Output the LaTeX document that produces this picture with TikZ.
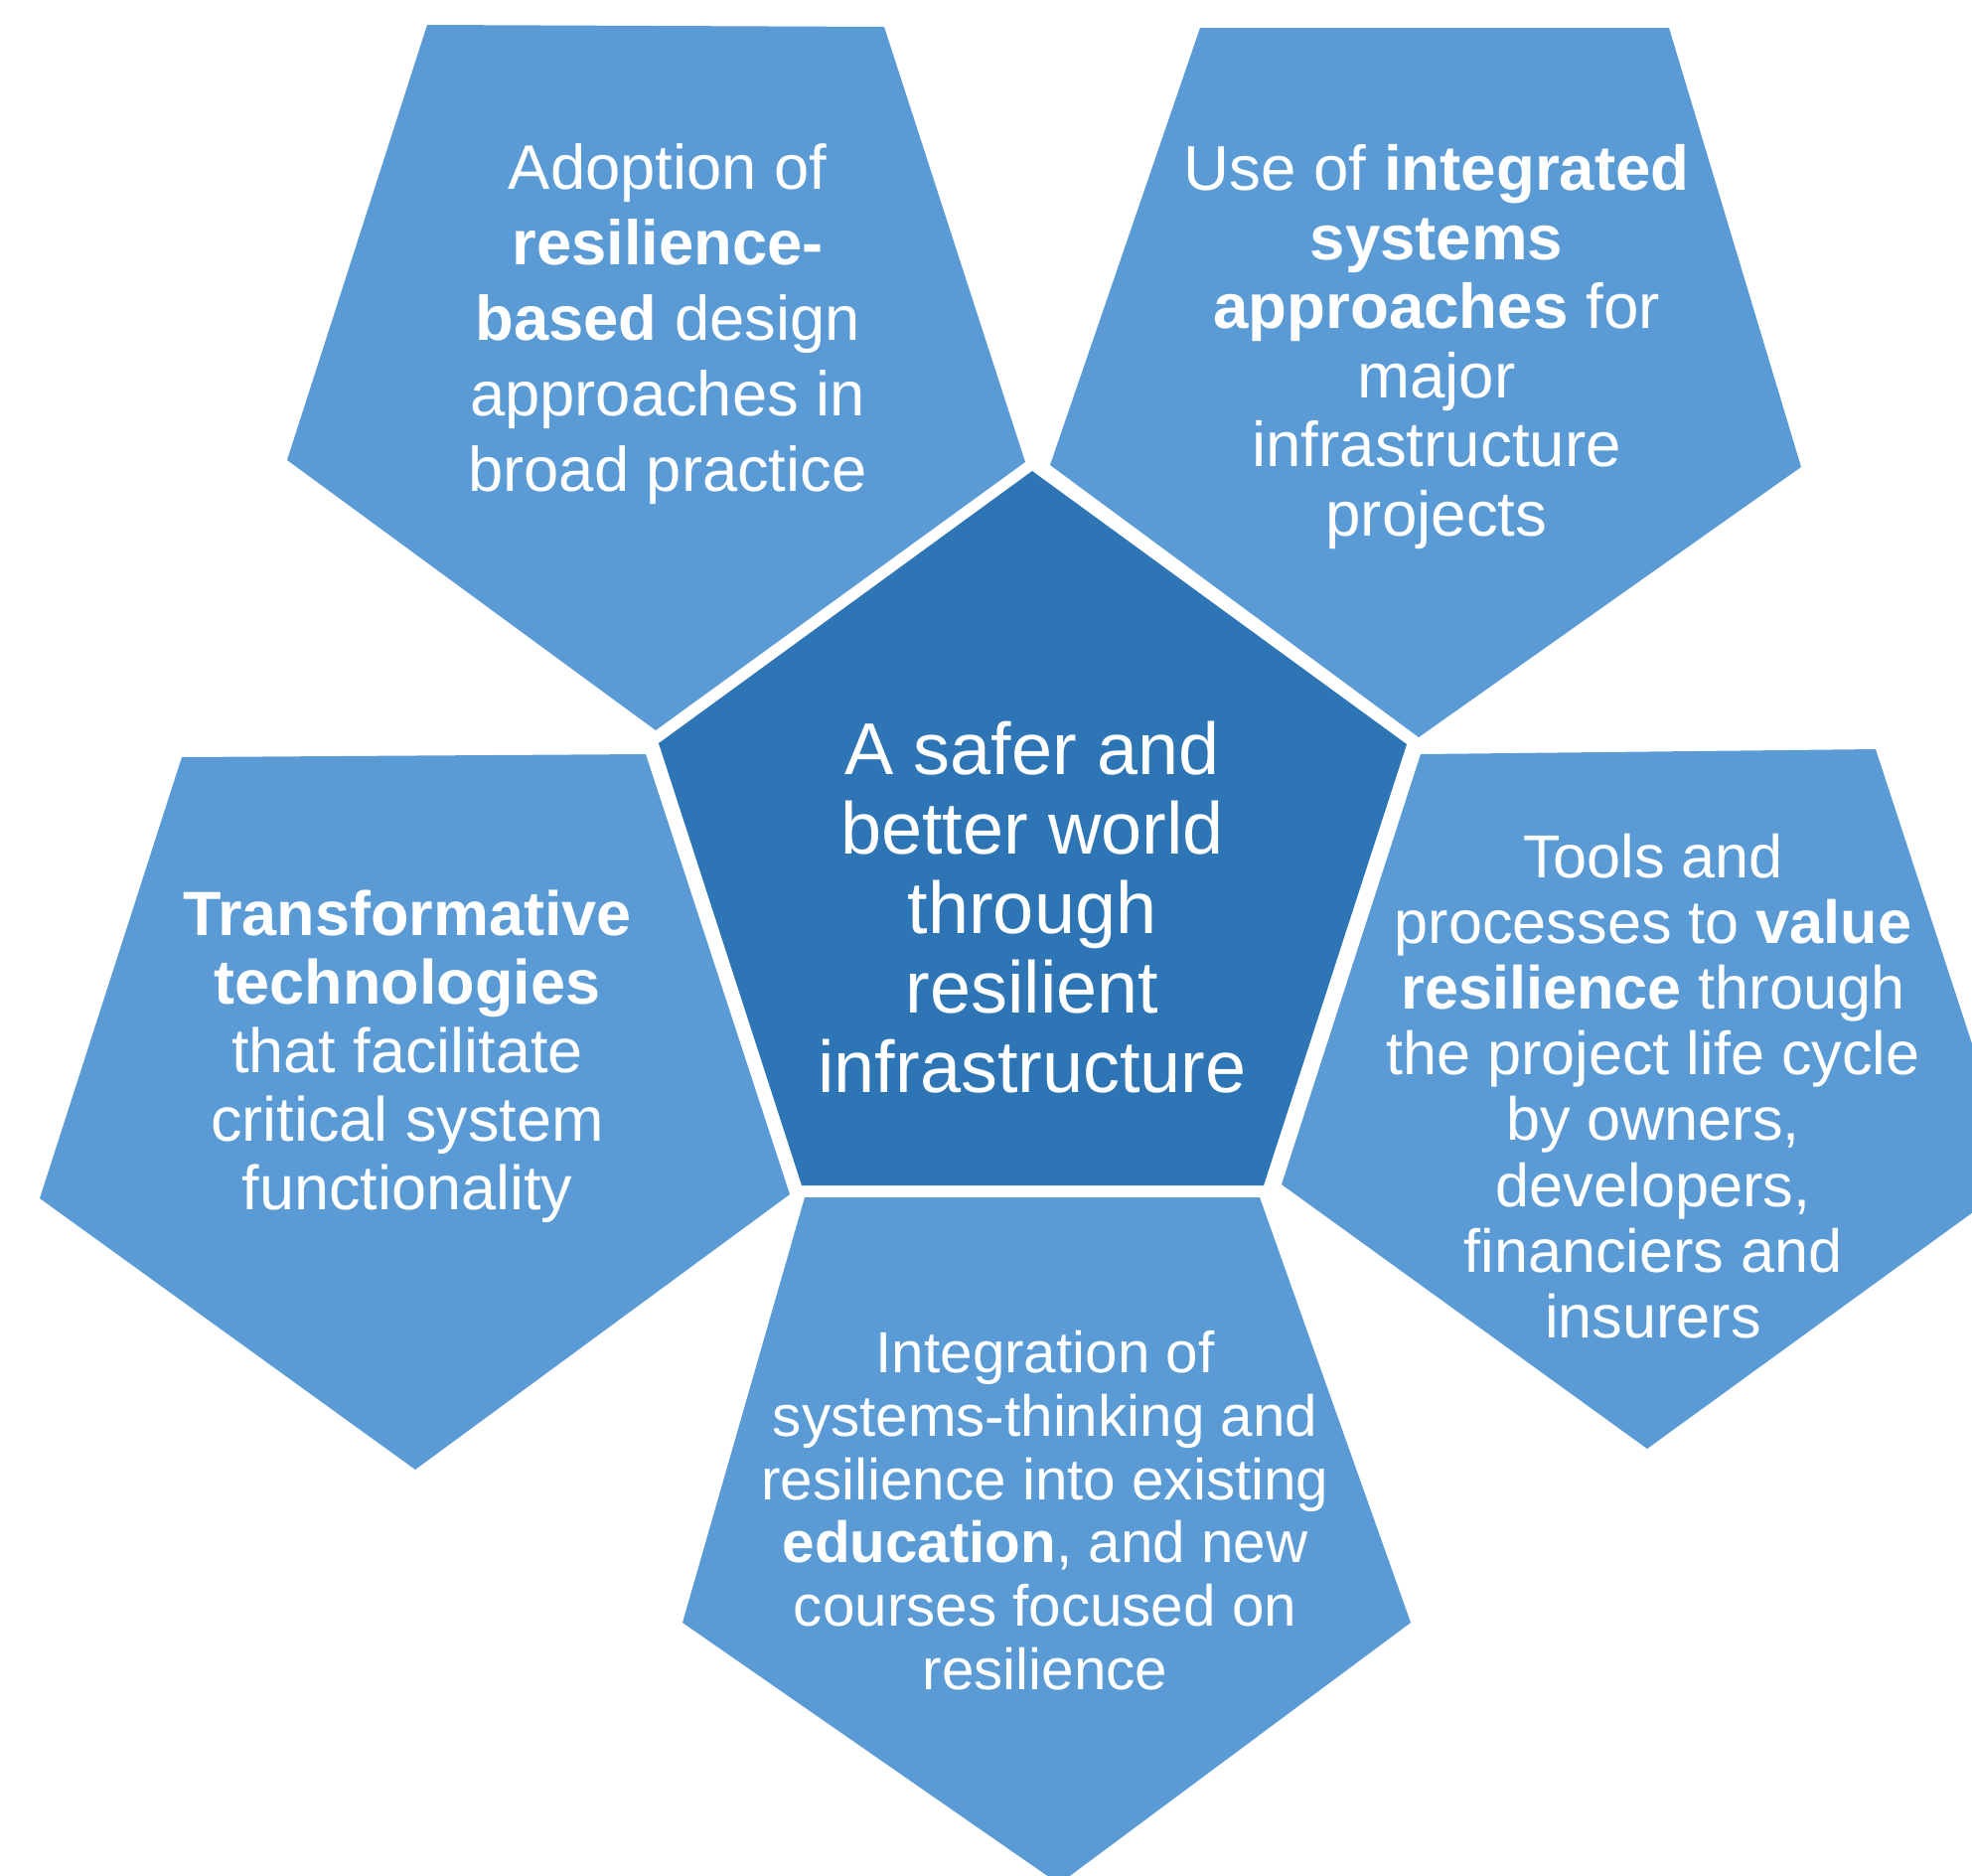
\documentclass[tikz,border=0pt]{standalone}
\usepackage{fontspec}
\setmainfont{Liberation Sans}
\usepackage{tikz}
\usetikzlibrary{calc}
\definecolor{PetalBlue}{HTML}{5B9BD5}
\definecolor{HubBlue}{HTML}{2E75B6}
\tikzstyle{petal} = [fill=PetalBlue]
\tikzstyle{hub} = [fill=HubBlue]
\tikzstyle{blurb} = [text=white, align=center, inner sep=0pt]

\begin{document}
\begin{tikzpicture}[x=0.01cm,y=-0.01cm]

	\useasboundingbox (0,0) rectangle (1985,1887);
	\clip (0,0) rectangle (1985,1887);

	% Outer pentagons
	\fill[petal] (430,25) -- (890,27) -- (1032,465) -- (660,735) -- (289,463) -- cycle;
	\fill[petal] (1208,28) -- (1680,28) -- (1813,470) -- (1428,742) -- (1057,468) -- cycle;
	\fill[petal] (183,762) -- (650,759) -- (795,1202) -- (418,1479) -- (40,1206) -- cycle;
	\fill[petal] (1430,759) -- (1888,754) -- (2030,1188) -- (1658,1458) -- (1290,1192) -- cycle;
	\fill[petal] (810,1205) -- (1268,1205) -- (1420,1633) -- (1066,1896) -- (687,1633) -- cycle;
	% Centre pentagon
	\fill[hub] (1039,474) -- (1416,749) -- (1272,1193) -- (807,1193) -- (663,748) -- cycle;

	% Texts
	\node[blurb, font=\fontsize{21}{22.7}\selectfont] (world) at (1039,913)
		{A safer and\\better world\\through\\resilient\\infrastructure};
	\node[blurb, font=\fontsize{18}{21.6}\selectfont] (design) at (672,326)
		{Adoption of\\\textbf{resilience-}\\\textbf{based} design\\approaches in\\broad practice};
	\node[blurb, font=\fontsize{18.1}{19.8}\selectfont] (systems) at (1446,349)
		{Use of \textbf{integrated}\\\textbf{systems}\\\textbf{approaches} for\\major\\infrastructure\\projects};
	\node[blurb, font=\fontsize{17.9}{19.6}\selectfont] (tech) at (410,1063)
		{\textbf{Transformative}\\\textbf{technologies}\\that facilitate\\critical system\\functionality};
	\node[blurb, font=\fontsize{17.4}{18.8}\selectfont] (value) at (1664,1093)
		{Tools and\\processes to \textbf{value}\\\textbf{resilience} through\\the project life cycle\\by owners,\\developers,\\financiers and\\insurers};
	\node[blurb, font=\fontsize{16.6}{18.1}\selectfont] (education) at (1052,1520)
		{Integration of\\systems-thinking and\\resilience into existing\\\textbf{education}, and new\\courses focused on\\resilience};

\end{tikzpicture}
\end{document}
